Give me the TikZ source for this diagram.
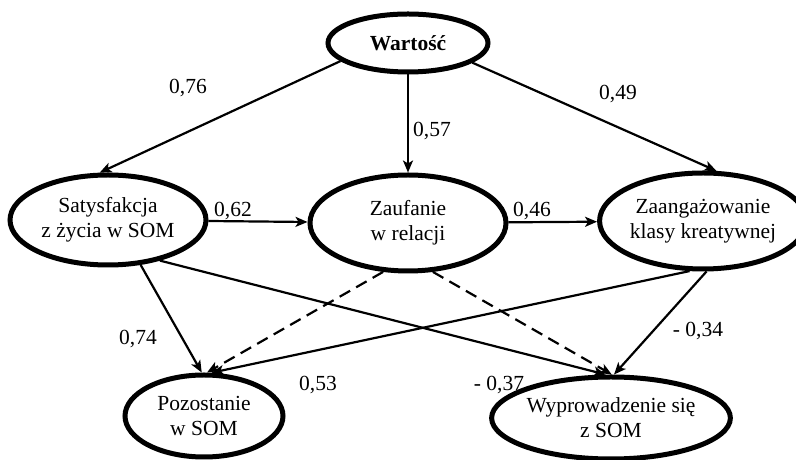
\documentclass[tikz,border=0pt]{standalone}
\usepackage{fontspec}
\IfFontExistsTF{LiberationSerif-Regular.ttf}{%
  \setmainfont{LiberationSerif-Regular.ttf}[BoldFont=LiberationSerif-Bold.ttf]}{%
  \setmainfont{Liberation Serif}}
\usetikzlibrary{shapes.geometric,arrows.meta}
\begin{document}
\begin{tikzpicture}[x=1pt,y=1pt,
  every node/.style={font=\fontsize{21.5}{25}\selectfont},
  var/.style={ellipse,draw,line width=5pt,inner sep=0pt,align=center},
  lbl/.style={inner sep=0pt},
  path/.style={line width=2.2pt,-{Stealth[length=12pt,width=10pt,inset=3pt]}},
  indirect/.style={path,dash pattern=on 12pt off 7pt}]
\useasboundingbox (0,0) rectangle (796,460);
\node[var,minimum width=160pt,minimum height=58pt,font=\fontsize{21.5}{25}\selectfont\bfseries] (W) at (408,417) {Wartość};
\node[var,minimum width=196pt,minimum height=90pt] (S) at (108,240) {Satysfakcja\\z życia w SOM};
\node[var,minimum width=196pt,minimum height=96pt] (Z) at (408,237) {Zaufanie\\w relacji};
\node[var,minimum width=180pt,minimum height=96pt] (K) at (703,239) {Zaangażowanie\\klasy kreatywnej};
\node[var,minimum width=158pt,minimum height=82pt] (P) at (204,44) {Pozostanie\\w SOM};
\node[var,minimum width=196pt,minimum height=82pt] (Y) at (611,42) {Wyprowadzenie się\\z SOM};

\draw[path] (W.195) -- (S.100);
\draw[path] (W.south) -- (Z.north);
\draw[path] (W.343) -- (K.75);
\draw[path] (S) -- (Z);
\draw[path] (Z) -- (K);
\draw[path] (S.306) -- (P.93);
\draw[path] (S.322) -- (Y.97);
\draw[indirect] (Z.243) -- (P.86);
\draw[indirect] (Z.297) -- (Y.89);
\draw[path] (K.255) -- (P.80);
\draw[path] (K.274) -- (Y.86);

\node[lbl] (l1) at (188,372) {0,76};
\node[lbl] (l2) at (432,329) {0,57};
\node[lbl] (l3) at (618,366) {0,49};
\node[lbl] (l4) at (233,249) {0,62};
\node[lbl] (l5) at (532,249) {0,46};
\node[lbl] (l6) at (138,121) {0,74};
\node[lbl] (l7) at (318,75) {0,53};
\node[lbl] (l8) at (499,75) {- 0,37};
\node[lbl] (l9) at (698,129) {- 0,34};
\end{tikzpicture}
\end{document}
